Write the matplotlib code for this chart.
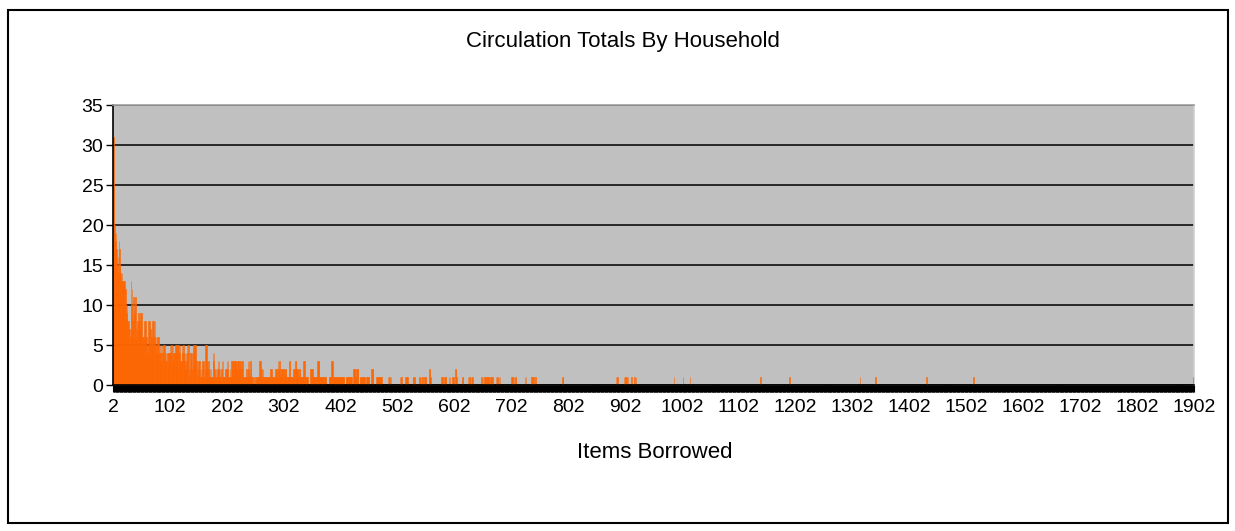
import numpy as np
import matplotlib
matplotlib.use("Agg")
import matplotlib.pyplot as plt
from matplotlib.patches import Rectangle
from matplotlib.ticker import FixedLocator, MultipleLocator

plt.rcParams['font.family'] = ['Liberation Sans', 'DejaVu Sans']

# households per number of items borrowed
first_item = 2
last_item = 1902

# items 2..481, one value each
dense_counts = [
    31, 25, 20, 19, 18, 19, 17, 15, 16, 14,
    18, 17, 15, 14, 13, 14, 13, 12, 13, 11,
    13, 12, 10, 9, 10, 8, 7, 8, 6, 7,
    6, 13, 10, 12, 8, 7, 11, 9, 10, 11,
    7, 6, 7, 8, 9, 8, 8, 7, 9, 8,
    9, 6, 5, 6, 4, 8, 7, 8, 6, 5,
    4, 5, 8, 6, 8, 7, 5, 6, 5, 8,
    7, 8, 6, 8, 5, 6, 4, 5, 6, 5,
    6, 4, 5, 4, 5, 3, 5, 4, 5, 3,
    5, 4, 3, 4, 3, 4, 2, 4, 3, 4,
    5, 4, 5, 4, 3, 5, 4, 3, 4, 5,
    3, 5, 4, 5, 2, 5, 4, 5, 3, 2,
    3, 5, 4, 5, 4, 3, 4, 2, 4, 3,
    5, 4, 5, 2, 1, 2, 4, 3, 4, 2,
    4, 5, 3, 5, 4, 5, 3, 2, 1, 2,
    3, 2, 3, 1, 2, 1, 2, 3, 2, 3,
    1, 2, 5, 4, 5, 3, 2, 3, 2, 1,
    2, 1, 2, 1, 1, 4, 3, 4, 2, 1,
    1, 2, 1, 2, 3, 2, 3, 1, 2, 1,
    2, 3, 1, 3, 1, 1, 1, 2, 1, 2,
    3, 2, 3, 1, 1, 2, 1, 1, 3, 2,
    3, 3, 1, 3, 2, 3, 3, 2, 3, 1,
    3, 3, 2, 3, 3, 2, 3, 3, 1, 1,
    1, 1, 1, 1, 2, 1, 1, 3, 2, 3,
    1, 3, 2, 1, 1, 1, 0, 0, 1, 0,
    0, 1, 1, 1, 1, 1, 1, 3, 1, 3,
    1, 2, 1, 2, 1, 1, 1, 1, 1, 1,
    1, 1, 1, 1, 1, 1, 2, 1, 2, 1,
    1, 1, 1, 1, 1, 2, 1, 2, 2, 1,
    3, 2, 3, 2, 1, 2, 2, 1, 2, 2,
    2, 1, 2, 2, 2, 1, 1, 1, 1, 1,
    3, 3, 1, 1, 1, 1, 1, 2, 1, 2,
    3, 3, 2, 1, 2, 2, 1, 2, 2, 1,
    1, 1, 1, 1, 1, 3, 3, 1, 1, 1,
    1, 1, 1, 0, 0, 0, 0, 2, 1, 2,
    2, 1, 1, 1, 1, 1, 1, 1, 1, 3,
    3, 3, 3, 1, 1, 1, 1, 1, 1, 1,
    1, 1, 1, 1, 1, 0, 0, 0, 0, 1,
    1, 1, 1, 0, 3, 3, 3, 1, 1, 1,
    1, 1, 1, 1, 1, 1, 1, 1, 1, 1,
    1, 1, 1, 1, 1, 1, 1, 0, 0, 1,
    1, 1, 1, 1, 1, 1, 1, 1, 1, 1,
    0, 0, 2, 2, 2, 2, 1, 1, 2, 2,
    2, 0, 0, 0, 1, 1, 1, 1, 1, 1,
    1, 1, 1, 0, 0, 1, 1, 1, 1, 1,
    1, 0, 0, 0, 2, 2, 2, 2, 0, 0,
    0, 0, 0, 1, 1, 1, 1, 1, 1, 1,
    1, 1, 1, 0, 0, 0, 0, 0, 0, 0,
]

# sparse tail: only the non-zero items
tail_items = [
    485, 487, 488, 490, 506, 508, 509, 516, 518, 519,
    529, 530, 532, 540, 541, 543, 545, 546, 549, 551,
    552, 557, 558, 559, 560, 579, 581, 584, 586, 587,
    592, 594, 599, 600, 604, 605, 606, 616, 617, 626,
    628, 629, 631, 633, 634, 650, 652, 655, 657, 658,
    660, 662, 663, 665, 667, 669, 675, 677, 678, 680,
    682, 702, 704, 705, 707, 709, 710, 726, 728, 737,
    739, 741, 744, 792, 793, 886, 888, 889, 900, 902,
    903, 905, 907, 913, 919, 921, 988, 1004, 1016, 1140,
    1191, 1315, 1342, 1432, 1515, 1902,
]
tail_counts = [
    1, 1, 1, 1, 1, 1, 1, 1, 1, 1,
    1, 1, 1, 1, 1, 1, 1, 1, 1, 1,
    1, 1, 2, 2, 1, 1, 1, 1, 1, 1,
    1, 1, 1, 1, 2, 2, 1, 1, 1, 1,
    1, 1, 1, 1, 1, 1, 1, 1, 1, 1,
    1, 1, 1, 1, 1, 1, 1, 1, 1, 1,
    1, 1, 1, 1, 1, 1, 1, 1, 1, 1,
    1, 1, 1, 1, 1, 1, 1, 1, 1, 1,
    1, 1, 1, 1, 1, 1, 1, 1, 1, 1,
    1, 1, 1, 1, 1, 1,
]

items = np.arange(first_item, last_item + 1)
counts = np.zeros(len(items))
counts[:len(dense_counts)] = dense_counts
counts[np.array(tail_items) - first_item] = tail_counts

W, H = 1235, 531
fig = plt.figure(figsize=(W / 100, H / 100), dpi=100)
ax = fig.add_axes([113 / W, 1 - 385 / H, (1194 - 113) / W, (385 - 105) / H])
ax.set_facecolor('#C0C0C0')

orange = '#FF6600'
ax.bar(items, counts, width=1.0, color=orange, edgecolor=orange, linewidth=0.4, zorder=2)

ax.set_xlim(first_item - 0.5, last_item + 0.5)
ax.set_ylim(0, 35)
ax.yaxis.set_major_locator(MultipleLocator(5))
ax.set_axisbelow(True)
ax.yaxis.grid(True, color='black', linewidth=1.1)

ax.xaxis.set_major_locator(FixedLocator(items[::100]))
ax.xaxis.set_minor_locator(FixedLocator(items))
ax.tick_params(axis='x', which='both', direction='out', length=5, width=0.8,
               color='black', labelsize=14, pad=5)
ax.tick_params(axis='y', direction='out', length=5, width=1, color='black',
               labelsize=14, pad=2)

ax.spines['left'].set_color('black')
ax.spines['bottom'].set_color('black')
ax.spines['top'].set_color('#A0A0A0')
ax.spines['right'].set_color('#D0D0D0')
for s in ax.spines.values():
    s.set_linewidth(1.2)
    s.set_zorder(3)
ax.spines['right'].set_zorder(1.5)

fig.text(623 / W, 1 - 41 / H, 'Circulation Totals By Household', ha='center', va='center', fontsize=16)
fig.text(655 / W, 1 - 452 / H, 'Items Borrowed', ha='center', va='center', fontsize=16)

fig.add_artist(Rectangle((8 / W, 1 - 523 / H), (1228 - 8) / W, (523 - 10) / H,
                         transform=fig.transFigure, fill=False, edgecolor='black', linewidth=1.5))

fig.savefig('out.png', dpi=100, facecolor='white')
